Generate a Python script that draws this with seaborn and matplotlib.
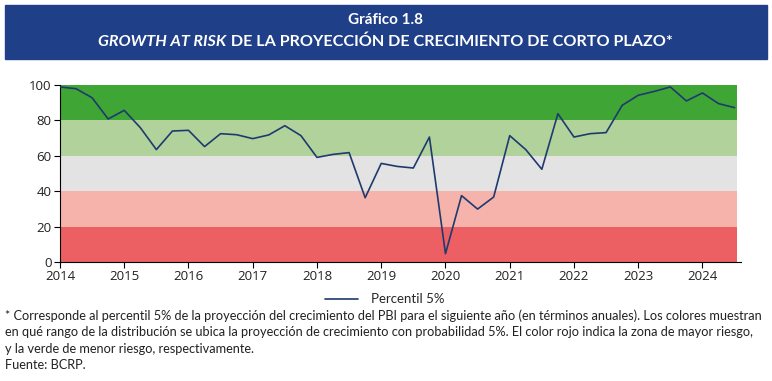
import matplotlib
matplotlib.use("Agg")
import matplotlib.pyplot as plt
import seaborn as sns
import pandas as pd

sns.set_theme(style="white")
plt.rcParams['font.family'] = ['Lato', 'DejaVu Sans']

# quarterly values, 2014Q1 .. 2024Q3
percentil5 = [98.9, 97.9, 92.8, 80.8, 85.7, 75.9, 63.5, 74.0, 74.4, 65.2,
              72.5, 71.9, 69.7, 71.8, 77.0, 71.4, 59.1, 60.8, 61.8, 36.3,
              55.7, 54.0, 53.1, 70.6, 4.7, 37.5, 29.9, 36.7, 71.4, 63.5,
              52.4, 83.8, 70.6, 72.5, 73.1, 88.5, 94.2, 96.4, 98.9, 91.0,
              95.5, 89.5, 87.2]
periodo = [2014 + i * 0.25 for i in range(len(percentil5))]
years = list(range(2014, 2025))
yticks = [0, 20, 40, 60, 80, 100]

bandas = [(0, 20, "#ec6063"), (20, 40, "#f6b3ab"), (40, 60, "#e3e3e3"),
          (60, 80, "#b1d39b"), (80, 100, "#3fa535")]

df = pd.DataFrame({"periodo": periodo, "Percentil 5%": percentil5})

fig = plt.figure(figsize=(7.72, 3.81), dpi=100)
W, H = 772, 381

# title bar
fig.patches.append(plt.Rectangle((5 / W, 1 - 59 / H), 762 / W, 54 / H,
                                 transform=fig.transFigure, color="#1f3f88", zorder=0))
fig.text(0.5, 1 - 20 / H, "Gráfico 1.8", color="white", fontsize=11,
         fontweight="bold", ha="center", va="center")

ax = fig.add_axes([60 / W, 1 - 262 / H, (741 - 60) / W, (262 - 85) / H])
xmax = 2024.6
ax.set_xlim(2014, xmax)
ax.set_ylim(0, 100)
frac = (2024.54 - 2014) / (xmax - 2014)
for lo, hi, c in bandas:
    ax.axhspan(lo, hi, xmin=0, xmax=frac, color=c, lw=0, zorder=0)

sns.lineplot(data=df, x="periodo", y="Percentil 5%", ax=ax, color="#1f3a6e",
             lw=1.2, label="Percentil 5%", zorder=3)

ax.set_xticks(years)
ax.set_yticks(yticks)
ax.set_xlabel("")
ax.set_ylabel("")
for s in ["top", "right"]:
    ax.spines[s].set_visible(False)
for s in ["left", "bottom"]:
    ax.spines[s].set_color("black")
    ax.spines[s].set_linewidth(0.8)
ax.tick_params(axis="both", direction="out", length=4, width=0.8, color="black",
               labelsize=9.5, labelcolor="#222222", pad=2, left=True, bottom=True)
for lab in ax.get_xticklabels() + ax.get_yticklabels():
    lab.set_family(["Open Sans", "DejaVu Sans"])

leg = ax.legend(loc="center", bbox_to_anchor=((385 - 60) / 681, -0.21), frameon=False,
                fontsize=9.5, handlelength=2.5, handletextpad=1.0)

lineas = ["* Corresponde al percentil 5% de la proyección del crecimiento del PBI para el siguiente año (en términos anuales). Los colores muestran",
          "en qué rango de la distribución se ubica la proyección de crecimiento con probabilidad 5%. El color rojo indica la zona de mayor riesgo,",
          "y la verde de menor riesgo, respectivamente.",
          "Fuente: BCRP."]
fig.canvas.draw()
r = fig.canvas.get_renderer()

# footnote: fit the longest line to the reference width
probe = fig.text(0, 0, lineas[0], fontsize=10)
fs = 10 * 760 / probe.get_window_extent(r).width
probe.remove()
fig.text(5 / W, 1 - 309 / H, "\n".join(lineas), fontsize=fs, color="#222222",
         ha="left", va="top", linespacing=1.45)

# second title line: italic part + regular part, centred together
y2 = 1 - 42 / H
t1 = fig.text(0, y2, "GROWTH AT RISK", color="white", fontsize=12, fontweight="bold",
              fontstyle="italic", ha="left", va="center")
t2 = fig.text(0, y2, " DE LA PROYECCIÓN DE CRECIMIENTO DE CORTO PLAZO*", color="white",
              fontsize=12, fontweight="bold", ha="left", va="center")
w1 = t1.get_window_extent(r).width
w2 = t2.get_window_extent(r).width
k = 575 / (w1 + w2)
t1.set_fontsize(12 * k)
t2.set_fontsize(12 * k)
w1 *= k
w2 *= k
x0 = (W - (w1 + w2)) / 2
t1.set_x(x0 / W)
t2.set_x((x0 + w1) / W)

fig.savefig("out.png", dpi=100)
